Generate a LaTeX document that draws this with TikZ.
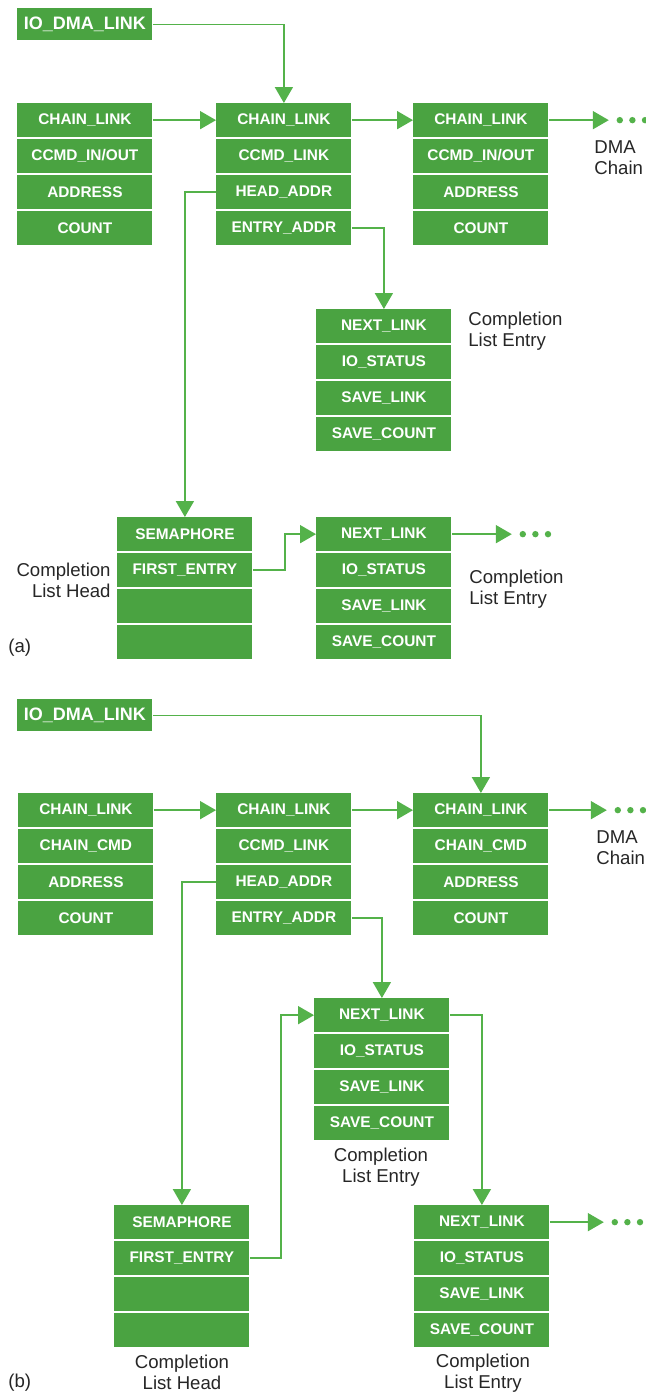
\documentclass[tikz,border=0pt]{standalone}
\usepackage{fontspec}
\setmainfont{Liberation Sans}
\usetikzlibrary{arrows.meta}

\definecolor{boxgreen}{RGB}{74,163,65}
\definecolor{linegreen}{RGB}{84,178,74}
\definecolor{labelgray}{RGB}{38,38,38}

\newcommand{\cellfont}{\bfseries\fontsize{7.7}{9}\selectfont}
\newcommand{\iofont}{\bfseries\fontsize{9}{10}\selectfont}
\newcommand{\lblfont}{\fontsize{9.3}{10.5}\selectfont}

% four stacked fields of one record: name, left x, top y, field texts
\newcommand{\recstack}[7]{%
  \node[cell] (#1-1) at (#2,#3) {#4};
  \node[cell] (#1-2) at (#2,#3+36) {#5};
  \node[cell] (#1-3) at (#2,#3+72) {#6};
  \node[cell] (#1-4) at (#2,#3+108) {#7};
}

\tikzset{
  cell/.style={anchor=north west, fill=boxgreen, text=white, font=\cellfont,
    minimum width=67.5pt, minimum height=16.75pt, inner sep=0pt},
  iobox/.style={cell, font=\iofont, minimum height=16pt},
  conn/.style={draw=linegreen, line width=0.9pt,
    -{Triangle[length=8pt,width=9pt]}},
  lbl/.style={text=labelgray, font=\lblfont, inner sep=0pt},
  dotfill/.style={fill=linegreen}
}

\begin{document}
\begin{tikzpicture}[x=0.5pt,y=-0.5pt]
\path[use as bounding box, fill=white] (0,0) rectangle (646,1393);

% ---------------- part (a) ----------------
\node[iobox] (ioA) at (17,8) {IO\_DMA\_LINK};
\recstack{La}{17}{103}{CHAIN\_LINK}{CCMD\_IN/OUT}{ADDRESS}{COUNT}
\recstack{Ma}{216}{103}{CHAIN\_LINK}{CCMD\_LINK}{HEAD\_ADDR}{ENTRY\_ADDR}
\recstack{Ra}{413}{103}{CHAIN\_LINK}{CCMD\_IN/OUT}{ADDRESS}{COUNT}
\recstack{Ea}{316}{309}{NEXT\_LINK}{IO\_STATUS}{SAVE\_LINK}{SAVE\_COUNT}
\recstack{Ha}{117}{517}{SEMAPHORE}{FIRST\_ENTRY}{}{}
\recstack{Fa}{316}{517}{NEXT\_LINK}{IO\_STATUS}{SAVE\_LINK}{SAVE\_COUNT}

\draw[conn] (ioA.east) -| (Ma-1.north);
\draw[conn] (La-1.east) -- (Ma-1.west);
\draw[conn] (Ma-1.east) -- (Ra-1.west);
\coordinate (dotsA) at ([xshift=30pt]Ra-1.east);
\draw[conn] (Ra-1.east) -- (dotsA);
\draw[conn] (Ma-3.west) -| (Ha-1.north);
\draw[conn] (Ma-4.east) -| (Ea-1.north);
\draw[conn] (Ha-2.east) -- ++(32,0) |- (Fa-1.west);
\coordinate (dotsA2) at ([xshift=30pt]Fa-1.east);
\draw[conn] (Fa-1.east) -- (dotsA2);

\foreach \c in {dotsA,dotsA2}{
  \fill[dotfill] ([xshift=5.5pt]\c) circle (1.6pt);
  \fill[dotfill] ([xshift=11.8pt]\c) circle (1.6pt);
  \fill[dotfill] ([xshift=18.1pt]\c) circle (1.6pt);
}

\node[lbl, anchor=west, align=left] (chainA) at (594,158) {DMA\\Chain};
\node[lbl, anchor=west, align=left] (entA1) at (468,331) {Completion\\List Entry};
\node[lbl, anchor=east, align=right] (headA) at (111,580) {Completion\\List Head};
\node[lbl, anchor=west, align=left] (entA2) at (469,589) {Completion\\List Entry};
\node[lbl, anchor=west] (partA) at (8,648) {(a)};

% ---------------- part (b) ----------------
\node[iobox] (ioB) at (17,699) {IO\_DMA\_LINK};
\recstack{Lb}{18}{793}{CHAIN\_LINK}{CHAIN\_CMD}{ADDRESS}{COUNT}
\recstack{Mb}{216}{793}{CHAIN\_LINK}{CCMD\_LINK}{HEAD\_ADDR}{ENTRY\_ADDR}
\recstack{Rb}{413}{793}{CHAIN\_LINK}{CHAIN\_CMD}{ADDRESS}{COUNT}
\recstack{Eb}{314}{998}{NEXT\_LINK}{IO\_STATUS}{SAVE\_LINK}{SAVE\_COUNT}
\recstack{Hb}{114}{1205}{SEMAPHORE}{FIRST\_ENTRY}{}{}
\recstack{Fb}{414}{1205}{NEXT\_LINK}{IO\_STATUS}{SAVE\_LINK}{SAVE\_COUNT}

\draw[conn] (ioB.east) -| (Rb-1.north);
\draw[conn] (Lb-1.east) -- (Mb-1.west);
\draw[conn] (Mb-1.east) -- (Rb-1.west);
\coordinate (dotsB) at ([xshift=29pt]Rb-1.east);
\draw[conn] (Rb-1.east) -- (dotsB);
\draw[conn] (Mb-3.west) -| (Hb-1.north);
\draw[conn] (Mb-4.east) -| (Eb-1.north);
\draw[conn] (Hb-2.east) -- ++(31,0) |- (Eb-1.west);
\draw[conn] (Eb-1.east) -| (Fb-1.north);
\coordinate (dotsB2) at ([xshift=27pt]Fb-1.east);
\draw[conn] (Fb-1.east) -- (dotsB2);

\foreach \c in {dotsB,dotsB2}{
  \fill[dotfill] ([xshift=5.5pt]\c) circle (1.6pt);
  \fill[dotfill] ([xshift=11.8pt]\c) circle (1.6pt);
  \fill[dotfill] ([xshift=18.1pt]\c) circle (1.6pt);
}

\node[lbl, anchor=west, align=left] (chainB) at (596,848) {DMA\\Chain};
\node[lbl, align=center] (entB1) at (381,1167) {Completion\\List Entry};
\node[lbl, align=center] (headB) at (182,1372) {Completion\\List Head};
\node[lbl, align=center] (entB2) at (483,1373) {Completion\\List Entry};
\node[lbl, anchor=west] (partB) at (8,1383) {(b)};
\end{tikzpicture}
\end{document}
